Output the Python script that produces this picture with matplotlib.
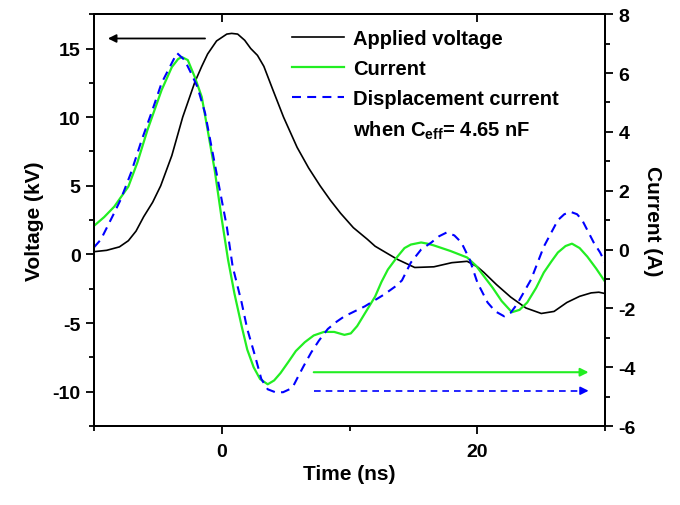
import numpy as np
import matplotlib
matplotlib.use("Agg")
import matplotlib.pyplot as plt
from matplotlib.lines import Line2D
from matplotlib.ticker import MultipleLocator, FixedLocator

# Applied voltage (kV), left axis
t_volt = [-10, -9.0, -8.0, -7.3, -6.7, -6.1, -5.4, -4.77, -3.9, -3.05, -2.1, -1.56,
          -1.1, -0.4, 0.4, 0.78, 1.25, 1.8, 2.27, 2.8, 3.3, 4.0, 4.84, 5.9, 6.8,
          7.7, 8.5, 9.3, 10.3, 11.4, 12.0, 13.0, 13.75, 15.1, 16.6, 18.0, 19.2,
          20.0, 20.5, 21.5, 22.6, 23.8, 25.0, 26.0, 27.0, 28.0, 28.9, 29.5, 30.0]
volt = [0.2, 0.3, 0.55, 1.0, 1.7, 2.75, 3.8, 5.0, 7.2, 10.0, 12.55, 13.7,
        14.6, 15.55, 16.05, 16.1, 16.05, 15.6, 15.0, 14.5, 13.7, 12.0, 10.0, 7.8, 6.3,
        5.0, 3.95, 3.0, 1.95, 1.1, 0.6, 0.05, -0.36, -0.95, -0.9, -0.6, -0.5,
        -0.9, -1.3, -2.2, -3.1, -3.9, -4.3, -4.15, -3.5, -3.05, -2.8, -2.75, -2.85]

# Measured current (A), right axis
t_cur = [-10, -9.2, -8.4, -7.3, -6.6, -5.8, -4.7, -3.9, -3.4, -3.1, -2.65, -2.1,
         -1.56, -1.1, -0.55, 0.0, 0.5, 1.0, 1.56, 2.0, 2.5, 3.0, 3.6, 4.1, 4.6,
         5.2, 5.8, 6.5, 7.2, 8.0, 8.8, 9.6, 10.1, 10.6, 11.3, 12.0, 12.5, 13.0,
         13.75, 14.3, 14.8, 15.6, 16.1, 16.6, 17.9, 19.2, 19.9, 20.5, 21.2, 21.9,
         22.7, 23.3, 23.9, 24.6, 25.2, 25.8, 26.3, 26.9, 27.4, 28.0, 28.6, 29.3, 30.0]
cur = [0.8, 1.1, 1.46, 2.14, 2.95, 4.07, 5.42, 6.2, 6.48, 6.54, 6.44, 5.86,
       5.19, 4.07, 2.71, 1.05, -0.35, -1.5, -2.6, -3.4, -4.0, -4.4, -4.58, -4.45, -4.2,
       -3.83, -3.45, -3.15, -2.92, -2.8, -2.8, -2.9, -2.85, -2.6, -2.1, -1.6, -1.1, -0.68,
       -0.24, 0.05, 0.17, 0.24, 0.2, 0.14, -0.05, -0.27, -0.55, -0.9, -1.3, -1.75,
       -2.13, -2.05, -1.8, -1.3, -0.78, -0.4, -0.1, 0.12, 0.2, 0.05, -0.24, -0.65, -1.1]

# Displacement current (A), right axis
t_disp = [-10, -9.45, -8.4, -7.9, -7.1, -6.25, -5.5, -4.7, -3.9, -3.5, -2.9, -2.4,
          -1.9, -1.3, -0.8, -0.15, 0.4, 0.86, 1.56, 2.0, 2.6, 3.1, 3.6, 4.2, 4.8,
          5.3, 5.6, 6.0, 6.4, 7.0, 7.6, 8.3, 9.0, 9.6, 11.2, 12.7, 13.6, 14.1, 14.8,
          15.6, 16.4, 17.0, 17.6, 18.2, 18.75, 19.4, 20.0, 20.8, 21.4, 22.1, 22.6,
          23.1, 24.2, 25.2, 26.3, 26.8, 27.3, 27.8, 28.2, 29.1, 29.6, 30.0]
disp = [0.07, 0.34, 1.25, 1.7, 2.6, 3.73, 4.64, 5.66, 6.34, 6.68, 6.44, 6.0,
        5.53, 4.64, 3.5, 2.03, 0.78, -0.58, -1.8, -2.7, -3.6, -4.4, -4.75, -4.85, -4.85,
        -4.75, -4.64, -4.3, -3.97, -3.5, -3.1, -2.7, -2.45, -2.27, -1.93, -1.53, -1.25,
        -1.05, -0.44, 0.0, 0.24, 0.45, 0.58, 0.48, 0.24, -0.34, -1.12, -1.8, -2.1,
        -2.27, -2.15, -1.86, -1.02, 0.1, 1.0, 1.2, 1.28, 1.2, 1.0, 0.24, -0.1, -0.45]

# arrows: (x_start, x_end, y)
arrow_volt = (-1.3, -8.9, 15.73)
arrow_cur = (7.2, 28.7, -4.17)
arrow_disp = (7.2, 28.7, -4.8)

plt.rcParams["font.family"] = ["Liberation Sans", "DejaVu Sans"]
plt.rcParams["font.weight"] = "bold"
plt.rcParams["axes.unicode_minus"] = False
plt.rcParams["mathtext.fontset"] = "custom"
plt.rcParams["mathtext.rm"] = "Liberation Sans:bold"
plt.rcParams["mathtext.bf"] = "Liberation Sans:bold"
plt.rcParams["mathtext.it"] = "Liberation Sans:bold"

fig = plt.figure(figsize=(6.8, 5.06), dpi=100)
ax = fig.add_axes([0.138, 0.156, 0.752, 0.814])
ax2 = ax.twinx()

ax.plot(t_volt, volt, color="black", lw=1.2)
ax2.plot(t_cur, cur, color="#22ee22", lw=1.6)
ax2.plot(t_disp, disp, color="#0000ff", lw=1.5, dashes=(4.3, 3.0))

# arrows
ax.annotate("", xy=(arrow_volt[1], arrow_volt[2]), xytext=(arrow_volt[0], arrow_volt[2]),
            arrowprops=dict(arrowstyle="-|>", color="black", lw=1.3,
                            mutation_scale=12, shrinkA=0, shrinkB=0))
ax2.annotate("", xy=(arrow_cur[1], arrow_cur[2]), xytext=(arrow_cur[0], arrow_cur[2]),
             arrowprops=dict(arrowstyle="-|>", color="#22ee22", lw=1.5,
                             mutation_scale=12, shrinkA=0, shrinkB=0))
ax2.plot([arrow_disp[0], arrow_disp[1] - 0.5], [arrow_disp[2]] * 2,
         color="#0000ff", lw=1.2, dashes=(4, 3))
ax2.annotate("", xy=(arrow_disp[1], arrow_disp[2]), xytext=(arrow_disp[1] - 0.6, arrow_disp[2]),
             arrowprops=dict(arrowstyle="-|>", color="#0000ff", lw=1.2,
                             mutation_scale=12, shrinkA=0, shrinkB=0))

ax.set_xlim(-10, 30)
ax.set_ylim(-12.5, 17.5)
ax2.set_ylim(-6, 8)
ax.xaxis.set_major_locator(FixedLocator([0, 20]))
ax.xaxis.set_minor_locator(FixedLocator([-10, 10, 30]))
ax.yaxis.set_major_locator(MultipleLocator(5))
ax.yaxis.set_minor_locator(MultipleLocator(2.5))
ax2.yaxis.set_major_locator(MultipleLocator(2))
ax2.yaxis.set_minor_locator(MultipleLocator(1))

for a in (ax, ax2):
    for s in a.spines.values():
        s.set_linewidth(1.4)
ax.tick_params(which="both", direction="out", width=1.3, labelsize=14, top=False, right=False)
ax.tick_params(which="major", length=6, pad=3.5)
ax.tick_params(which="minor", length=3.5)
ax.tick_params(axis="x", which="major", pad=6)
ax2.tick_params(which="both", direction="out", width=1.3, labelsize=14)
ax2.tick_params(which="major", length=6, pad=3.5)
ax2.tick_params(which="minor", length=3.5)

top = ax.secondary_xaxis("top")
top.xaxis.set_major_locator(FixedLocator([0, 20]))
top.tick_params(direction="in", length=6, width=1.3, labeltop=False)
top.spines["top"].set_linewidth(1.4)

ax.set_xlabel("Time (ns)", fontsize=15, fontweight="bold", labelpad=3)
ax.set_ylabel("Voltage (kV)", fontsize=15, fontweight="bold", labelpad=6)
ax2.set_ylabel("Current (A)", fontsize=15, fontweight="bold", rotation=270, labelpad=19)

handles = [Line2D([], [], color="black", lw=1.2),
           Line2D([], [], color="#22ee22", lw=1.6),
           Line2D([], [], color="#0000ff", lw=1.5, dashes=(4.3, 3.0)),
           Line2D([], [], linestyle="none")]
labels = ["Applied voltage", "Current", "Displacement current",
          "when C$_{\\mathbf{eff}}$= 4.65 nF"]
ax2.legend(handles, labels, loc="upper left", bbox_to_anchor=(0.387, 0.963),
           frameon=False, fontsize=14.5, handlelength=2.6, handletextpad=0.45,
           labelspacing=0.53, borderpad=0, borderaxespad=0)

fig.savefig("out.png", dpi=100)
